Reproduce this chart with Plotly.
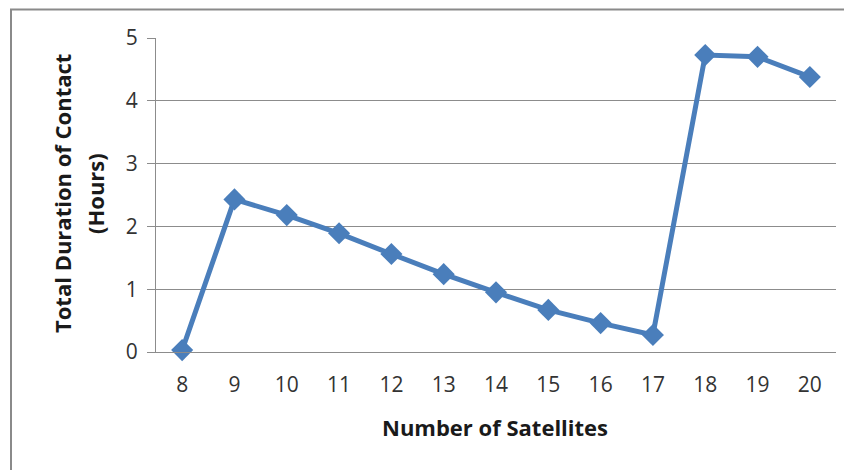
import plotly.graph_objects as go

satellites = [8, 9, 10, 11, 12, 13, 14, 15, 16, 17, 18, 19, 20]
duration_hours = [0.03, 2.43, 2.18, 1.89, 1.56, 1.24, 0.95, 0.67, 0.46, 0.27, 4.73, 4.70, 4.38]
y_ticks = [0, 1, 2, 3, 4, 5]

# page is rendered with an 8px body margin; work in page pixels and shift
OFF = 8
W, H = 852 - OFF, 470 - OFF
ML, MR, MT, MB = 156 - OFF, 16, 38 - OFF, 118
PW, PH = W - ML - MR, H - MT - MB

def px_x(x):
    return (x - OFF - ML) / PW

def px_y(y):
    return (H - MB - (y - OFF)) / PH

FONT = "Open Sans"
BLUE = "#4A7EBB"
GRID = "#8C8C8C"
TICK_COLOR = "#333333"

fig = go.Figure()
fig.add_trace(go.Scatter(
    x=satellites, y=duration_hours, mode="lines+markers",
    line=dict(color=BLUE, width=5),
    marker=dict(symbol="diamond", size=17, color=BLUE),
    showlegend=False, cliponaxis=False,
))

fig.update_layout(
    width=W, height=H,
    margin=dict(l=ML, r=MR, t=MT, b=MB),
    paper_bgcolor="white", plot_bgcolor="white",
    font=dict(family=FONT, color=TICK_COLOR, size=21),
    xaxis=dict(
        range=[7.5, 20.5], tickvals=satellites, ticktext=[str(s) for s in satellites],
        showgrid=False, showline=True, linecolor=GRID, linewidth=1,
        ticks="", ticklabelstandoff=14, zeroline=False,
        tickfont=dict(size=21, color=TICK_COLOR),
    ),
    yaxis=dict(
        range=[0, 5], tickvals=y_ticks, showgrid=True, gridcolor=GRID, gridwidth=1,
        showline=True, linecolor=GRID, linewidth=1, zeroline=False,
        ticks="outside", ticklen=8, tickcolor=GRID, ticklabelstandoff=5,
        tickfont=dict(size=21, color=TICK_COLOR),
    ),
    shapes=[dict(
        type="rect", xref="paper", yref="paper",
        x0=px_x(11), x1=px_x(900), y0=px_y(520), y1=px_y(9.5),
        line=dict(color="#8A8A8A", width=2), fillcolor="rgba(0,0,0,0)",
    )],
    annotations=[
        dict(text="<b>Number of Satellites</b>", xref="paper", yref="paper",
             x=px_x(495), y=px_y(427), showarrow=False,
             font=dict(size=22, color="#1a1a1a", family=FONT),
             xanchor="center", yanchor="middle"),
        dict(text="<b>Total Duration of Contact</b>", xref="paper", yref="paper",
             x=px_x(62), y=px_y(194), showarrow=False, textangle=-90,
             font=dict(size=22, color="#1a1a1a", family=FONT),
             xanchor="center", yanchor="middle"),
        dict(text="<b>(Hours)</b>", xref="paper", yref="paper",
             x=px_x(95), y=px_y(194), showarrow=False, textangle=-90,
             font=dict(size=22, color="#1a1a1a", family=FONT),
             xanchor="center", yanchor="middle"),
    ],
)

fig.write_html("out.html")
